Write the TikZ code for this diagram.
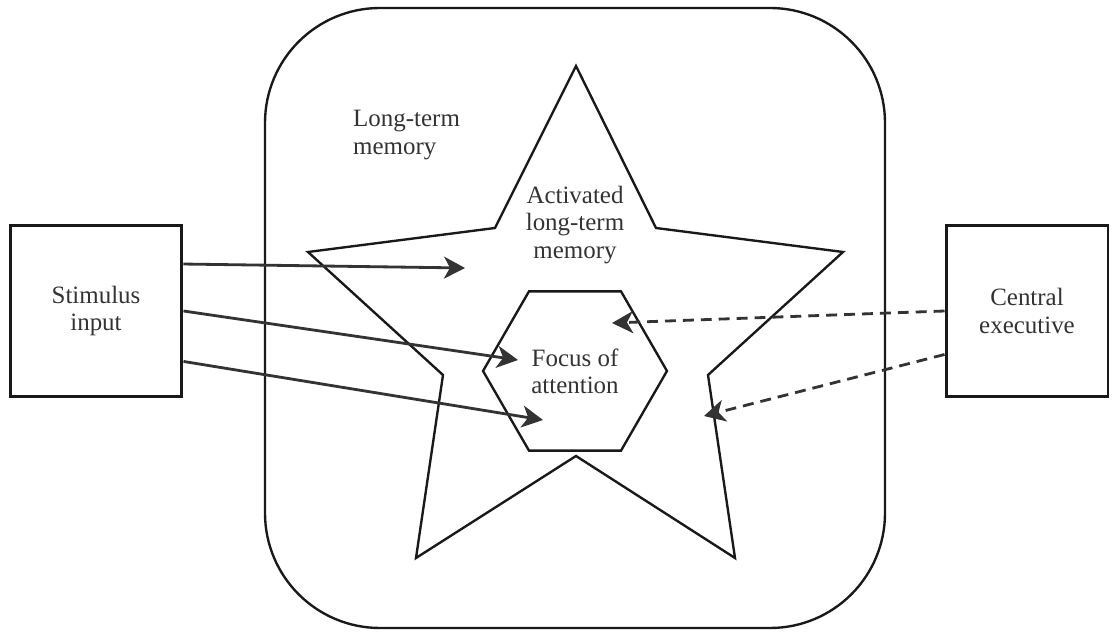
\documentclass[tikz,border=0pt]{standalone}
\usepackage{fontspec}
\setmainfont{Liberation Serif}
\usetikzlibrary{arrows.meta,shapes.geometric,positioning,calc}

\begin{document}
\begin{tikzpicture}[x=0.02cm, y=0.02cm, font=\fontsize{14.2}{15.5}\selectfont]
    \tikzset{box/.style={draw=black!90, line width=1.7pt, minimum width=3.44cm, minimum height=3.42cm, inner sep=0pt, align=center, text=black!80},
             edge/.style={draw=black!90, line width=1.35pt, line join=miter},
             feed/.style={draw=black!80, line width=1.6pt, -{Stealth[length=0.42cm, width=0.44cm, inset=0.12cm]}},
             ctrl/.style={feed, dash pattern=on 6.2pt off 4pt}}
    \useasboundingbox (0,0) rectangle (1113,632);
    % long-term memory
    \draw[edge, rounded corners=2.3cm] (265,4) rectangle (885,624);
    \node[align=left, anchor=west, text=black!80] (ltm) at (347,497) {Long-term\\memory};
    % activated part (star)
    \draw[edge] (576,566) -- (656,404) -- (843,380) -- (708,257) -- (735,74) -- (576,176)
      -- (416,74) -- (443,257) -- (308,380) -- (495,404) -- cycle;
    \node[align=center, text=black!80] (act) at (575,407) {Activated\\long-term\\memory};
    % focus of attention
    \node[edge, regular polygon, regular polygon sides=6, minimum size=3.68cm, inner sep=0pt,
      align=center, text=black!80] (foa) at (575,261) {Focus of\\attention};
    \node[box] (sin) at (96,321) {Stimulus\\input};
    \node[box, minimum width=3.24cm] (ce) at (1027,321) {Central\\executive};
    \coordinate (t1) at (465,364);
    \coordinate (t2) at (518,272);
    \coordinate (t3) at (543,212);
    \coordinate (t4) at (612,309);
    \coordinate (t5) at (704,216);
    \draw[feed] ($(sin.north east)!.23!(sin.south east)$) -- (t1);
    \draw[feed] ($(sin.north east)!.5!(sin.south east)$) -- (t2);
    \draw[feed] ($(sin.north east)!.79!(sin.south east)$) -- (t3);
    \draw[ctrl] ($(ce.north west)!.5!(ce.south west)$) -- (t4);
    \draw[ctrl] ($(ce.north west)!.75!(ce.south west)$) -- (t5);
  \end{tikzpicture}
\end{document}
